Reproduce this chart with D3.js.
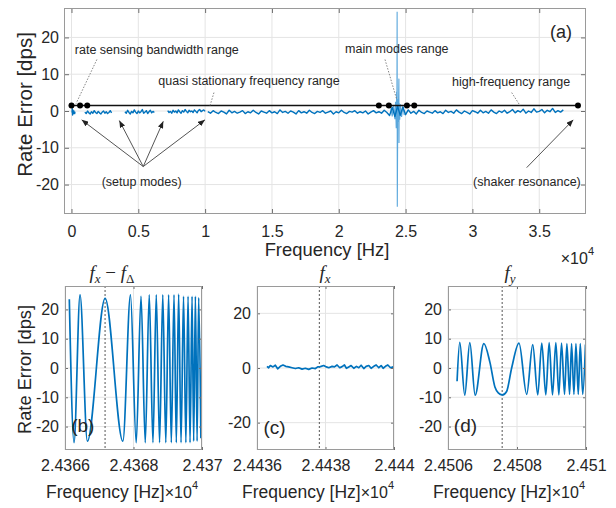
<!DOCTYPE html>
<html><head><meta charset="utf-8">
<script src="https://cdn.jsdelivr.net/npm/d3@7"></script>
<style>
body{margin:0;background:#fff}
svg{display:block}
text{font-family:"Liberation Sans",Arial,sans-serif;fill:#262626}
</style>
</head><body>
<svg id="chart" width="616" height="508"></svg>
<script>
// ---------------- DATA ----------------
// (a) overview: tick values / labels
const mainXTicks = [0, 5000, 10000, 15000, 20000, 25000, 30000, 35000];
const mainXTickLabels = ["0", "0.5", "1", "1.5", "2", "2.5", "3", "3.5"];
const mainYTicks = [-20, -10, 0, 10, 20];

// (a) rate-error trace, setup-mode segments (Hz, dps)
const segAFreq = [40, 60, 80, 100, 120, 140, 160, 180, 200, 220, 240, 260];
const segAValue = [-0.4, 0.6, -1.1, 0.3, -0.8, -0.2, -0.6, 0.0, -0.5, -0.3, -0.7, -0.2];
const segBStart = 1000, segBStep = 100;
const segBValue = [-0.3, -0.7, 0.0, -0.5, -0.8, -0.2, -0.6, 0.1, -0.4, -0.7, -0.1, -0.5, -0.8, -0.3, 0.0, -0.6, -0.2, -0.7, -0.4, 0.1, -0.5];
const segCStart = 4000, segCStep = 100;
const segCValue = [-0.2, -0.6, 0.2, -0.4, -0.8, -0.1, -0.5, 0.3, -0.3, -0.7, 0.0, -0.5, -0.2, 0.4, -0.6, -0.3, 0.1, -0.7, -0.2, 0.2, -0.5, -0.1, -0.4];
const segDStart = 7200, segDStep = 100;
const segDValue = [0.1, -0.4, -0.1, -0.6, 0.2, -0.3, 0.0, -0.5, 0.3, -0.2, -0.6, 0.1, -0.3, 0.4, -0.1, -0.5, 0.2, -0.2, 0.0, -0.4, 0.3, -0.1, -0.5, 0.2, 0.4, -0.2, 0.1, 0.3, -0.1];
// continuous sweep 10.2 kHz .. 36.8 kHz
const segEStart = 10200, segEStep = 200;
const segEValue = [
  -0.2, -0.6, 0.1, -0.4, -0.7, 0.0, -0.3, -0.8, 0.2, -0.5,
  -0.1, -0.6, -0.3, 0.1, -0.7, -0.2, -0.5, 0.2, -0.4, -0.8,
  0.0, -0.3, -0.6, 0.1, -0.5, -0.2, -0.7, 0.3, -0.4, -0.1,
  -0.6, 0.0, -0.3, -0.8, 0.1, -0.5, -0.2, -0.6, 0.2, -0.4,
  -0.7, -0.1, -0.4, 0.1, -0.6, -0.3, 0.0, -0.8, -0.2, -0.5,
  0.2, -0.4, -0.7, -0.1, -0.3, 0.1, -0.6, -0.2, -0.5, 0.0,
  -0.8, -0.3, 0.1, -0.5, -0.2, -0.6, 0.2, -0.4,
  -1.2, 1.0, -1.5, 1.3, -1.2, 1.1, -1.0,
  0.3, -0.6, -0.1, -0.8, 0.2, -0.4, -0.7, 0.0, -0.3, -0.6,
  0.1, -0.5, -0.2, -0.7, 0.2, -0.4, -0.1, -0.6, 0.3, -0.3,
  -0.7, 0.0, -0.4, -0.8, 0.1, -0.2, -0.6, 0.2, -0.5, -0.1,
  -0.6, 0.3, -0.3, -0.7, 0.0, -0.4, 0.2, -0.6, -0.2, 0.4,
  -0.5, 0.1, -0.3, 0.5, -0.6, 0.0, -0.4, 0.6, -0.3, -0.1,
  0.4, -0.5, 0.2, -0.2, 0.7, -0.4, 0.1, -0.3, 0.3
];
// main-modes burst (lighter trace)
const burstFreq = [23900, 24000, 24100, 24200, 24250, 24300, 24330, 24350, 24367, 24380, 24420, 24450, 24500, 24507, 24520, 24560, 24620, 24700, 24800, 24900];
const burstValue = [0.8, -1.5, 1.6, -2.2, 2.5, -4.7, 5.2, -2.9, 27, -26, 3.2, -3.0, 8.8, -8.7, 2.2, -2.4, 1.8, -1.6, 1.3, -1.1];
// range markers
const rangeLevel = 1.5;
const rangeDots = [0, 640, 1180, 23000, 23750, 25100, 25650, 37900];

// (b) f_x - f_delta
const bXTicks = [24366, 24368, 24370];
const bXTickLabels = ["2.4366", "2.4368", "2.437"];
const bYTicks = [-20, -10, 0, 10, 20];
const bMarker = 24367.17;
const bFreq = [24366.126, 24366.264, 24366.439, 24366.653, 24367.171, 24367.690, 24367.912, 24368.079, 24368.220, 24368.343, 24368.460, 24368.568, 24368.665, 24368.761, 24368.855, 24368.943, 24369.025, 24369.104, 24369.183, 24369.250, 24369.318, 24369.388, 24369.461, 24369.529, 24369.593, 24369.651, 24369.710, 24369.757, 24369.807, 24369.857, 24369.903, 24369.968];
const bValue = [23.5, -25.5, 25, -25, 23.8, -25, 25, -25.5, 24.5, -25.5, 25, -25.5, 25, -25.5, 25, -25.5, 25, -25.5, 25, -25.5, 25.2, -25.5, 24.5, -25.5, 24.5, -25.5, 24.5, -25, 24.5, -25, 24, -24];

// (c) f_x
const cXTicks = [24436, 24438, 24440];
const cXTickLabels = ["2.4436", "2.4438", "2.444"];
const cYTicks = [-20, 0, 20];
const cMarker = 24437.82;
const cFreq = [24436.291, 24436.340, 24436.389, 24436.467, 24436.535, 24436.603, 24436.681, 24436.759, 24436.837, 24436.925, 24437.022, 24437.120, 24437.217, 24437.315, 24437.412, 24437.510, 24437.607, 24437.705, 24437.773, 24437.851, 24437.948, 24438.026, 24438.095, 24438.192, 24438.260, 24438.338, 24438.416, 24438.484, 24438.553, 24438.611, 24438.679, 24438.748, 24438.826, 24438.904, 24438.972, 24439.040, 24439.118, 24439.186, 24439.264, 24439.332, 24439.410, 24439.479, 24439.557, 24439.625, 24439.683, 24439.751, 24439.820, 24439.898, 24439.976];
const cValue = [0.6, 0.1, 0.9, 0.4, 1.0, -0.3, 0.6, 1.1, 0.6, 0.4, 0.1, -0.2, 0.1, -0.4, -0.1, -0.5, 0.0, -0.2, 0.4, 0.5, 0.9, 0.4, 0.1, 0.6, 0.4, 1.1, 0.1, 0.5, 1.1, -0.1, 0.4, 0.9, -0.1, 0.6, 0.1, 1.0, -0.2, 0.6, 0.9, -0.1, 0.6, 1.1, 0.1, 0.9, -0.1, 0.6, 1.1, 0.1, 0.4];

// (d) f_y
const dXTicks = [24506, 24508, 24510];
const dXTickLabels = ["2.4506", "2.4508", "2.451"];
const dYTicks = [-20, -10, 0, 10, 20];
const dMarker = 24507.57;
const dFreq = [24506.263, 24506.341, 24506.486, 24506.632, 24506.787, 24507.039, 24507.214, 24507.360, 24507.457, 24507.573, 24507.699, 24507.845, 24508.058, 24508.281, 24508.456, 24508.602, 24508.718, 24508.835, 24508.932, 24509.029, 24509.126, 24509.213, 24509.291, 24509.378, 24509.446, 24509.524, 24509.582, 24509.650, 24509.708, 24509.776, 24509.834, 24509.905, 24509.985];
const dValue = [-4.5, 8.8, -9.3, 8.7, -9.3, 8.3, 2, -6.5, -8.5, -9.2, -8, 0, 8.5, -9, 8, -9.2, 8.5, -9.2, 8.7, -9.2, 8.7, -9.2, 8.5, -9, 8.3, -9, 8.3, -9, 8.3, -9, 8.3, -9, 8];

// ---------------- DRAWING ----------------
const BLUE = "#0072BD";
const svg = d3.select("#chart");
const defs = svg.append("defs");
defs.append("marker").attr("id", "ah").attr("viewBox", "0 0 10 8").attr("refX", 10).attr("refY", 4)
  .attr("markerWidth", 7).attr("markerHeight", 5.6).attr("markerUnits", "userSpaceOnUse").attr("orient", "auto")
  .append("path").attr("d", "M0,0 L10,4 L0,8 Z").attr("fill", "#222");

function makePanel(p) {
  const x = d3.scaleLinear().domain(p.xDomain).range([p.left, p.right]);
  const y = d3.scaleLinear().domain(p.yDomain).range([p.bottom, p.top]);
  const g = svg.append("g");
  const cid = "clip" + p.id;
  defs.append("clipPath").attr("id", cid).append("rect")
    .attr("x", p.left).attr("y", p.top).attr("width", p.right - p.left).attr("height", p.bottom - p.top);
  const grid = g.append("g").attr("stroke", "#e4e4e4").attr("stroke-width", 1);
  grid.selectAll(null).data(p.xTicks).join("line")
    .attr("x1", d => x(d)).attr("x2", d => x(d)).attr("y1", p.top).attr("y2", p.bottom);
  grid.selectAll(null).data(p.yTicks).join("line")
    .attr("y1", d => y(d)).attr("y2", d => y(d)).attr("x1", p.left).attr("x2", p.right);
  const plot = g.append("g").attr("clip-path", `url(#${cid})`);
  const axes = g.append("g");
  axes.append("g").attr("transform", `translate(0,${p.bottom})`)
    .call(d3.axisBottom(x).tickValues(p.xTicks).tickFormat((d, i) => p.xLabels[i]).tickSize(-p.tick).tickPadding(p.xPad));
  axes.append("g").attr("transform", `translate(0,${p.top})`)
    .call(d3.axisTop(x).tickValues(p.xTicks).tickFormat("").tickSize(-p.tick));
  axes.append("g").attr("transform", `translate(${p.left},0)`)
    .call(d3.axisLeft(y).tickValues(p.yTicks).tickFormat(d => String(d)).tickSize(-p.tick).tickPadding(p.yPad));
  axes.append("g").attr("transform", `translate(${p.right},0)`)
    .call(d3.axisRight(y).tickValues(p.yTicks).tickFormat("").tickSize(-p.tick));
  axes.selectAll(".domain").remove();
  axes.selectAll(".tick line").attr("stroke", "#6e6e6e");
  axes.selectAll(".tick text").attr("font-size", 16).attr("fill", "#262626")
    .style("font-family", '"Liberation Sans", Arial, sans-serif');
  axes.append("rect").attr("x", p.left + 0.5).attr("y", p.top + 0.5)
    .attr("width", p.right - p.left - 1).attr("height", p.bottom - p.top - 1)
    .attr("fill", "none").attr("stroke", "#9a9a9a").attr("stroke-width", 1);
  return { x, y, g, plot, p };
}

function addText(parent, x, y, str, size, opts = {}) {
  const t = parent.append("text").attr("x", x).attr("y", y).attr("font-size", size).text(str);
  if (opts.anchor) t.attr("text-anchor", opts.anchor);
  if (opts.family) t.style("font-family", opts.family);
  if (opts.fill) t.attr("fill", opts.fill);
  return t;
}

function times10(parent, xEnd, baseline) {
  const t = parent.append("text").attr("x", xEnd).attr("y", baseline).attr("text-anchor", "end");
  t.append("tspan").attr("font-size", 16).text("\u00d710");
  t.append("tspan").attr("font-size", 11).attr("dy", -9).text("4");
  return t;
}

// ---- Panel (a)
const A = makePanel({ id: "a", left: 64, right: 586, top: 8, bottom: 214, xDomain: [-560, 38500], yDomain: [-28, 28],
  xTicks: mainXTicks, xLabels: mainXTickLabels, yTicks: mainYTicks, tick: 5, xPad: 12, yPad: 5 });

const lineA = d3.line().x(d => A.x(d[0])).y(d => A.y(d[1]));
const segs = [
  segAFreq.map((f, i) => [f, segAValue[i]]),
  segBValue.map((v, i) => [segBStart + i * segBStep, v]),
  segCValue.map((v, i) => [segCStart + i * segCStep, v]),
  segDValue.map((v, i) => [segDStart + i * segDStep, v]),
  segEValue.map((v, i) => [segEStart + i * segEStep, v])
];
A.plot.append("path").datum(burstFreq.map((f, i) => [f, burstValue[i]]))
  .attr("d", lineA).attr("fill", "none").attr("stroke", "#5aa7dc").attr("stroke-width", 1.1);
A.plot.selectAll(null).data(segs).join("path").attr("d", lineA)
  .attr("fill", "none").attr("stroke", BLUE).attr("stroke-width", 1.4).attr("stroke-linejoin", "round");

// range line + dots
A.plot.append("line").attr("x1", A.x(d3.min(rangeDots))).attr("x2", A.x(d3.max(rangeDots)))
  .attr("y1", A.y(rangeLevel)).attr("y2", A.y(rangeLevel)).attr("stroke", "#111").attr("stroke-width", 1.3);
A.g.selectAll(null).data(rangeDots).join("circle")
  .attr("cx", d => A.x(d)).attr("cy", A.y(rangeLevel)).attr("r", 3).attr("fill", "#000");

// annotations (data coordinates of panel a)
const annoTexts = [
  { text: "rate sensing bandwidth range", f: 250, v: 15.6 },
  { text: "quasi stationary frequency range", f: 6500, v: 7.0 },
  { text: "main modes range", f: 20470, v: 15.7 },
  { text: "high-frequency range", f: 28470, v: 6.75 },
  { text: "(setup modes)", f: 2260, v: -20.5 },
  { text: "(shaker resonance)", f: 30050, v: -20.5 }
];
const leaderLines = [
  [1900, 14.0, 340, 2.0], [10660, 5.0, 10370, 1.5], [23460, 14.0, 24340, 3.1], [32940, 5.0, 33560, 1.5]
];
const arrowLines = [
  [5370, -15.1, 760, -2.4], [5370, -15.1, 3580, -2.6], [5370, -15.1, 6870, -2.8], [5370, -15.1, 9990, -2.4],
  [34060, -15.4, 37550, -2.4]
];
A.g.selectAll(null).data(annoTexts).join("text")
  .attr("x", d => A.x(d.f)).attr("y", d => A.y(d.v)).attr("font-size", 12.5).attr("fill", "#1a1a1a").text(d => d.text);
A.g.selectAll(null).data(leaderLines).join("line")
  .attr("x1", d => A.x(d[0])).attr("y1", d => A.y(d[1])).attr("x2", d => A.x(d[2])).attr("y2", d => A.y(d[3]))
  .attr("stroke", "#777").attr("stroke-width", 0.9).attr("stroke-dasharray", "1.5,1.5");
A.g.selectAll(null).data(arrowLines).join("line")
  .attr("x1", d => A.x(d[0])).attr("y1", d => A.y(d[1])).attr("x2", d => A.x(d[2])).attr("y2", d => A.y(d[3]))
  .attr("stroke", "#555").attr("stroke-width", 1).attr("marker-end", "url(#ah)");
addText(A.g, A.x(35800), A.y(19.8), "(a)", 18, { fill: "#1a1a1a" });

// axis labels (a)
addText(svg, 327, 256, "Frequency [Hz]", 18.4, { anchor: "middle" });
times10(svg, 594, 264);
svg.append("text").attr("transform", "translate(32,104.5) rotate(-90)").attr("text-anchor", "middle")
  .attr("font-size", 20.5).text("Rate Error [dps]");

// ---- Sub panels
function subPanel(id, left, right, xDomain, yDomain, xTicks, xLabels, yTicks, freq, vals, marker, curve) {
  const P = makePanel({ id, left, right, top: 286, bottom: 450, xDomain, yDomain, xTicks, xLabels, yTicks, tick: 3, xPad: 10, yPad: 6 });
  P.plot.append("line").attr("x1", P.x(marker)).attr("x2", P.x(marker)).attr("y1", P.p.top).attr("y2", P.p.bottom)
    .attr("stroke", "#555").attr("stroke-width", 1).attr("stroke-dasharray", "2,2");
  P.plot.append("path").datum(freq.map((f, i) => [f, vals[i]]))
    .attr("d", d3.line().x(d => P.x(d[0])).y(d => P.y(d[1])).curve(curve))
    .attr("fill", "none").attr("stroke", BLUE).attr("stroke-width", 1.7).attr("stroke-linejoin", "round");
  return P;
}
const B = subPanel("b", 65, 202, [24366, 24370], [-28, 28], bXTicks, bXTickLabels, bYTicks, bFreq, bValue, bMarker, d3.curveMonotoneX);
const C = subPanel("c", 257, 394, [24436, 24440], [-30, 30], cXTicks, cXTickLabels, cYTicks, cFreq, cValue, cMarker, d3.curveLinear);
const D = subPanel("d", 448, 586, [24506, 24510], [-28, 28], dXTicks, dXTickLabels, dYTicks, dFreq, dValue, dMarker, d3.curveMonotoneX);

addText(B.g, B.x(24366.18), B.y(-22), "(b)", 19, { fill: "#1a1a1a" });
addText(C.g, C.x(24436.19), C.y(-24), "(c)", 19, { fill: "#1a1a1a" });
addText(D.g, D.x(24506.17), D.y(-22), "(d)", 19, { fill: "#1a1a1a" });

// x labels of sub panels
[[198, B], [394, C], [585, D]].forEach(([xe, P]) => {
  const t = svg.append("text").attr("x", xe).attr("y", 498).attr("text-anchor", "end");
  t.append("tspan").attr("font-size", 17.5).text("Frequency [Hz]");
  t.append("tspan").attr("font-size", 16).text("\u00d710");
  t.append("tspan").attr("font-size", 11).attr("dy", -9).text("4");
});
svg.append("text").attr("transform", "translate(31,369.5) rotate(-90)").attr("text-anchor", "middle")
  .attr("font-size", 18.3).text("Rate Error [dps]");

// math titles
function mathTitle(cx, base, parts) {
  const t = svg.append("text").attr("x", cx).attr("y", base).attr("text-anchor", "middle")
    .style("font-family", '"Liberation Serif", "Times New Roman", serif').attr("fill", "#111");
  let shift = 0;
  parts.forEach(pt => {
    const dy = (pt.sub ? 4 : 0) - shift;
    shift = pt.sub ? 4 : 0;
    t.append("tspan").attr("dy", dy).attr("font-size", pt.sub ? 13 : 19)
      .attr("font-style", pt.it ? "italic" : "normal").text(pt.t);
  });
}
mathTitle(112, 279, [{ t: "f", it: 1 }, { t: "x", it: 1, sub: 1 }, { t: " \u2212 " }, { t: "f", it: 1 }, { t: "\u0394", sub: 1 }]);
mathTitle(325, 279, [{ t: "f", it: 1 }, { t: "x", it: 1, sub: 1 }]);
mathTitle(510, 279, [{ t: "f", it: 1 }, { t: "y", it: 1, sub: 1 }]);
</script>
</body></html>
